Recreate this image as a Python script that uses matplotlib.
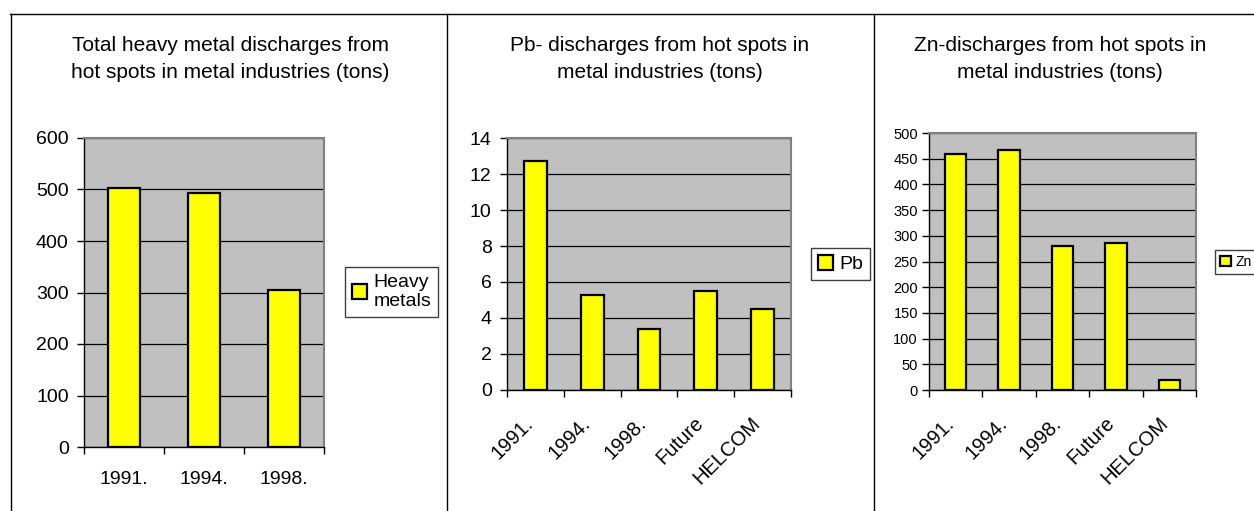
import matplotlib
matplotlib.use("Agg")
import matplotlib.pyplot as plt
from matplotlib.lines import Line2D
from matplotlib.patches import Patch
import numpy as np

plt.rcParams["font.family"] = ["Liberation Sans", "DejaVu Sans"]

W, H = 1254, 511
DPI = 100

# data
hm_years = ["1991.", "1994.", "1998."]
hm_values = [502, 493, 305]

pb_cats = ["1991.", "1994.", "1998.", "Future", "HELCOM"]
pb_values = [12.7, 5.3, 3.4, 5.5, 4.5]

zn_cats = ["1991.", "1994.", "1998.", "Future", "HELCOM"]
zn_values = [459, 467, 281, 286, 19]

titles = [
    "Total heavy metal discharges from\nhot spots in metal industries (tons)",
    "Pb- discharges from hot spots in\nmetal industries (tons)",
    "Zn-discharges from hot spots in\nmetal industries (tons)",
]

BAR_COLOR = "#ffff00"
PLOT_BG = "#c0c0c0"

fig = plt.figure(figsize=(W / DPI, H / DPI), dpi=DPI)


def px_axes(x0, y0, x1, y1):
    # pixel box (top-left origin) -> figure axes
    return fig.add_axes([x0 / W, 1 - y1 / H, (x1 - x0) / W, (y1 - y0) / H])


def style_axes(ax, cats, values, ymax, ystep, yfs, ypad, xrot, xfs, xpad):
    n = len(cats)
    x = np.arange(n)
    ax.set_facecolor(PLOT_BG)
    ax.bar(x, values, width=0.4, color=BAR_COLOR, edgecolor="black", linewidth=1.6, zorder=3)
    ax.set_xlim(-0.5, n - 0.5)
    ax.set_ylim(0, ymax)
    ax.set_yticks(np.arange(0, ymax + ystep / 2, ystep))
    ax.yaxis.grid(True, color="black", linewidth=0.9, zorder=1)
    ax.set_axisbelow(True)
    ax.tick_params(axis="y", direction="out", length=5, width=1, labelsize=yfs, pad=ypad)
    if xrot:
        # slanted labels sit a little left of the category centre
        ax.set_xticks(x - 0.21)
        ax.set_xticklabels(cats, rotation=45, ha="right", rotation_mode="anchor", fontsize=xfs)
    else:
        ax.set_xticks(x)
        ax.set_xticklabels(cats, fontsize=xfs)
    ax.tick_params(axis="x", which="major", length=0, pad=xpad)
    ax.set_xticks(np.arange(n + 1) - 0.5, minor=True)
    ax.tick_params(axis="x", which="minor", direction="out", length=5, width=1)
    for s in ["top", "right"]:
        ax.spines[s].set_color("#808080")
        ax.spines[s].set_linewidth(1.5)
    for s in ["left", "bottom"]:
        ax.spines[s].set_color("black")
        ax.spines[s].set_linewidth(1.0)


def add_legend(ax, label, left_px, cy_px, fs):
    h = Patch(facecolor=BAR_COLOR, edgecolor="black", linewidth=1.6)
    leg = ax.legend([h], [label], loc="center left",
                    bbox_to_anchor=(left_px / W, 1 - cy_px / H),
                    bbox_transform=fig.transFigure, fontsize=fs,
                    fancybox=False, shadow=False, framealpha=1,
                    handlelength=0.8, handleheight=0.8, handletextpad=0.3,
                    borderpad=0.35, borderaxespad=0)
    leg.get_frame().set_edgecolor("#404040")
    leg.get_frame().set_linewidth(1.0)


# panel 1
ax1 = px_axes(84, 138, 324, 447)
style_axes(ax1, hm_years, hm_values, 600, 100, 14, 6, False, 14, 17)
add_legend(ax1, "Heavy\nmetals", 345, 292, 14)

# panel 2
ax2 = px_axes(507, 138, 791, 390)
style_axes(ax2, pb_cats, pb_values, 14, 2, 14, 6, True, 14.5, 17)
add_legend(ax2, "Pb", 811, 264, 14)

# panel 3
ax3 = px_axes(929, 133, 1196, 390)
style_axes(ax3, zn_cats, zn_values, 500, 50, 10.5, 3, True, 14.5, 17)
add_legend(ax3, "Zn", 1215, 262, 10)

# titles
for cx, t in zip([230, 660, 1060], titles):
    fig.text(cx / W, 1 - 59 / H, t, ha="center", va="center", fontsize=15, linespacing=1.58)

# table lines
fig.add_artist(Line2D([10 / W, 1], [1 - 14 / H] * 2, color="black", linewidth=1.0, transform=fig.transFigure))
for xl in [10.5, 447, 874]:
    fig.add_artist(Line2D([xl / W] * 2, [0, 1 - 14 / H], color="black", linewidth=1.0, transform=fig.transFigure))

fig.savefig("out.png", dpi=DPI)
